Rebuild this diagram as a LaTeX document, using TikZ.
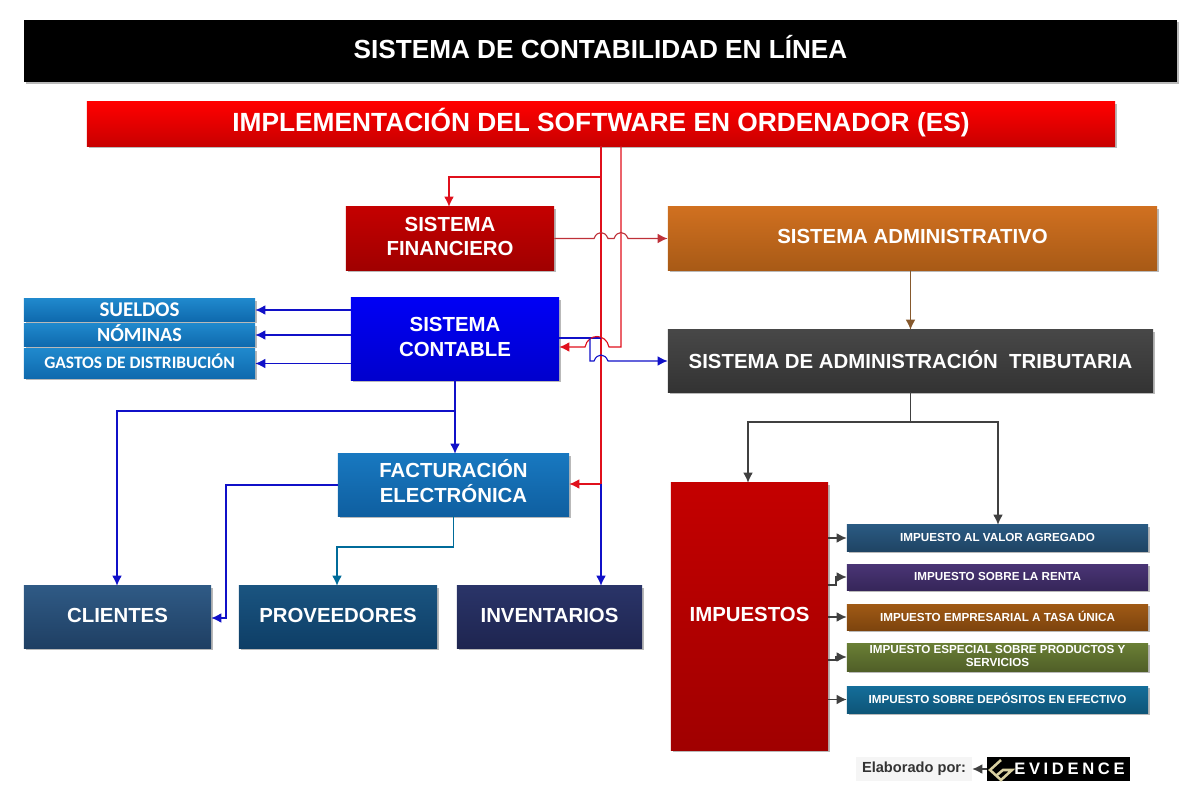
\documentclass[tikz,border=0pt]{standalone}
\usepackage{fontspec}
\setmainfont{Liberation Sans}
\newfontfamily\calibrifont{Carlito}
\newfontfamily\evifont[LetterSpace=22]{Liberation Sans}
\usetikzlibrary{shadows, arrows.meta}
\definecolor{redT}{HTML}{FF0000}
\definecolor{redB}{HTML}{C80000}
\definecolor{wineT}{HTML}{C40000}
\definecolor{wineB}{HTML}{A00000}
\definecolor{sideT}{HTML}{1F88CC}
\definecolor{sideB}{HTML}{0F6AAE}
\definecolor{linkred}{HTML}{E0101C}
\definecolor{linkblue}{HTML}{1010C8}
\definecolor{logogold}{HTML}{D8CFA0}
\tikzstyle{whbox} = [rectangle, inner sep=0pt, align=center, text=white,
font=\bfseries, text depth=0.1cm,
general shadow={shadow xshift=0.05cm, shadow yshift=-0.05cm, fill=black!55, opacity=0.5}]
\tikzstyle{bigbox} = [whbox, font=\fontsize{14.5}{17.6}\selectfont\bfseries]
\tikzstyle{blueside} = [whbox, minimum width=5.775cm, top color=sideT, bottom color=sideB]
\tikzstyle{taxbox} = [whbox, minimum width=7.525cm, text depth=0.05cm, font=\fontsize{8.3}{9.6}\selectfont\bfseries]
\tikzstyle{redlink} = [-{Latex[length=0.25cm,width=0.24cm]}, linkred, line width=0.8pt]
\tikzstyle{bluelink} = [-{Latex[length=0.25cm,width=0.24cm]}, linkblue, line width=0.8pt]
\tikzstyle{graylink} = [-{Latex[length=0.25cm,width=0.24cm]}, black!75, line width=0.8pt]
\begin{document}
\begin{tikzpicture}[x=0.025cm, y=-0.025cm]
	\useasboundingbox (0,0) rectangle (1203,800);

	\node (title) [whbox, fill=black, minimum width=28.825cm, minimum height=1.55cm, text depth=0.2cm, font=\fontsize{18.6}{20}\selectfont\bfseries] at (600.5,51) {SISTEMA DE CONTABILIDAD EN LÍNEA};
	\node (impl) [whbox, top color=redT, bottom color=redB, minimum width=25.7cm, minimum height=1.1cm, text depth=0.2cm, font=\fontsize{18.7}{20}\selectfont\bfseries] at (601,124) {IMPLEMENTACIÓN DEL SOFTWARE EN ORDENADOR (ES)};

	\node (fin) [bigbox, top color=wineT, bottom color=wineB, minimum width=5.2cm, minimum height=1.575cm] at (450,238.5) {SISTEMA\\FINANCIERO};
	\node (adm) [bigbox, top color={rgb,255:red,208;green,112;blue,32}, bottom color={rgb,255:red,168;green,90;blue,22}, minimum width=12.225cm, minimum height=1.575cm] at (912.5,238.5) {SISTEMA ADMINISTRATIVO};
	\node (con) [bigbox, top color={rgb,255:red,0;green,0;blue,245}, bottom color={rgb,255:red,0;green,0;blue,205}, minimum width=5.2cm, minimum height=2.05cm] at (455,339) {SISTEMA\\CONTABLE};
	\node (trib) [bigbox, top color=black!72, bottom color=black!80, minimum width=12.125cm, minimum height=1.55cm] at (910.5,361) {SISTEMA DE ADMINISTRACIÓN\ \ TRIBUTARIA};

	\node (sue) [blueside, minimum height=0.55cm, text depth=0.03cm, font=\calibrifont\fontsize{14.9}{15}\selectfont\bfseries] at (139.5,310) {SUELDOS};
	\node (nom) [blueside, minimum height=0.55cm, font=\calibrifont\fontsize{14.3}{15}\selectfont\bfseries] at (139.5,335) {NÓMINAS};
	\node (gas) [blueside, minimum height=0.725cm, font=\calibrifont\fontsize{12.4}{13}\selectfont\bfseries] at (139.5,363.5) {GASTOS DE DISTRIBUCIÓN};

	\node (fac) [bigbox, top color={rgb,255:red,24;green,120;blue,192}, bottom color={rgb,255:red,15;green,95;blue,160}, minimum width=5.775cm, minimum height=1.55cm, text depth=0.2cm] at (453.5,485) {FACTURACIÓN\\ELECTRÓNICA};
	\node (cli) [bigbox, top color={rgb,255:red,47;green,90;blue,133}, bottom color={rgb,255:red,31;green,63;blue,99}, minimum width=4.675cm, minimum height=1.55cm] at (117.5,617) {CLIENTES};
	\node (pro) [bigbox, top color={rgb,255:red,26;green,84;blue,128}, bottom color={rgb,255:red,14;green,62;blue,102}, minimum width=4.95cm, minimum height=1.55cm] at (338,617) {PROVEEDORES};
	\node (inv) [bigbox, top color={rgb,255:red,42;green,52;blue,104}, bottom color={rgb,255:red,30;green,37;blue,80}, minimum width=4.625cm, minimum height=1.55cm] at (549.5,617) {INVENTARIOS};
	\node (imp) [bigbox, top color=wineT, bottom color=wineB, minimum width=3.925cm, minimum height=6.675cm] at (749.5,616.5) {IMPUESTOS};

	\node (iva) [taxbox, top color={rgb,255:red,42;green,90;blue,130}, bottom color={rgb,255:red,31;green,68;blue,100}, minimum height=0.65cm] at (997.5,538) {IMPUESTO AL VALOR AGREGADO};
	\node (ren) [taxbox, top color={rgb,255:red,74;green,53;blue,117}, bottom color={rgb,255:red,54;green,38;blue,90}, minimum height=0.65cm] at (997.5,577) {IMPUESTO SOBRE LA RENTA};
	\node (ietu) [taxbox, top color={rgb,255:red,160;green,90;blue,21}, bottom color={rgb,255:red,125;green,68;blue,14}, minimum height=0.65cm] at (997.5,617) {IMPUESTO EMPRESARIAL A TASA ÚNICA};
	\node (ieps) [taxbox, top color={rgb,255:red,106;green,127;blue,53}, bottom color={rgb,255:red,80;green,95;blue,40}, minimum height=0.7cm] at (997.5,657) {IMPUESTO ESPECIAL SOBRE PRODUCTOS Y\\SERVICIOS};
	\node (ide) [taxbox, top color={rgb,255:red,20;green,110;blue,154}, bottom color={rgb,255:red,14;green,85;blue,120}, minimum height=0.675cm] at (997.5,699.5) {IMPUESTO SOBRE DEPÓSITOS EN EFECTIVO};

	\node (ela) [rectangle, fill=black!4, minimum width=2.9cm, minimum height=0.6cm, inner sep=0pt, font=\fontsize{10.4}{11}\selectfont\bfseries, text=black!80] at (914,769) {Elaborado por:};
	\node (evi) [rectangle, fill=black, minimum width=3.575cm, minimum height=0.6cm, inner sep=0pt] at (1058.5,769) {};
	\node (evitxt) [anchor=west, inner sep=0pt, text=white, font=\evifont\fontsize{11.8}{13}\selectfont\bfseries] at (1014,769) {EVIDENCE};
	\draw [line width=1.8pt, logogold] (1001,760) -- (990,770) -- (1001,780) -- (1012,770) -- (1003,770) -- (997,775);

	% red feeds from the top bar
	\coordinate (busA) at (601,146);
	\coordinate (busB) at (621,146);
	\coordinate (busC) at (601,484);
	\draw [redlink] (busA) |- (449,177) -- (fin.north -| 449,177);
	\draw [redlink] (busA) -- (busC) -- (fac.east |- busC);
	\draw [bluelink] (busC) -- (inv.north -| busC);
	\draw [bluelink, -] (con.east |- 0,338) -- (busA |- 0,338);
	\draw [redlink] (busB) -- (621,347) -- (609,347) .. controls (606,333) and (588,333) .. (585,347) -- (con.east |- 0,347);
	\draw [redlink, black!20!linkred!85!white] (fin.east) -- (594,238.5) .. controls (597,230.5) and (605,230.5) .. (608,238.5) -- (614,238.5) .. controls (617,230.5) and (625,230.5) .. (628,238.5) -- (adm.west);

	% blue links out of the accounting box
	\draw [bluelink] (590,338) -- (590,361) -- (594,361) .. controls (597,353) and (605,353) .. (608,361) -- (trib.west);
	\draw [bluelink] (con.west |- sue) -- (sue);
	\draw [bluelink] (con.west |- nom) -- (nom);
	\draw [bluelink] (con.west |- gas) -- (gas);

	\draw [bluelink] (con.south) -- (fac.north -| con.south);
	\draw [bluelink] (con.south |- 0,411) -- (117,411) -- (cli.north -| 117,411);
	\draw [bluelink] (fac.west) -- (226,485) -- (226,618) -- (cli.east |- 0,618);
	\draw [-{Latex[length=0.25cm,width=0.24cm]}, line width=0.8pt, blue!30!cyan!60!black] (fac.south) -- (fac.south |- 0,547) -- (337,547) -- (pro.north -| 337,547);

	\draw [-{Latex[length=0.25cm,width=0.24cm]}, line width=0.8pt, brown!70!black] (adm.south -| trib.south) -- (trib.north);
	\draw [graylink] (trib.south) -- (trib.south |- 0,422) -- (748,422) -- (imp.north -| 748,422);
	\draw [graylink] (trib.south |- 0,422) -- (998,422) -- (iva.north -| 998,422);

	\draw [graylink] (imp.east |- iva) -- (iva);
	\draw [graylink] (imp.east |- 0,585) -- (836,585) -- (836,577) -- (ren);
	\draw [graylink] (imp.east |- ietu) -- (ietu);
	\draw [graylink] (imp.east |- 0,660) -- (836,660) -- (836,657) -- (ieps);
	\draw [graylink] (imp.east |- ide) -- (ide);
	\draw [graylink] (evi) -- (ela);
\end{tikzpicture}
\end{document}
